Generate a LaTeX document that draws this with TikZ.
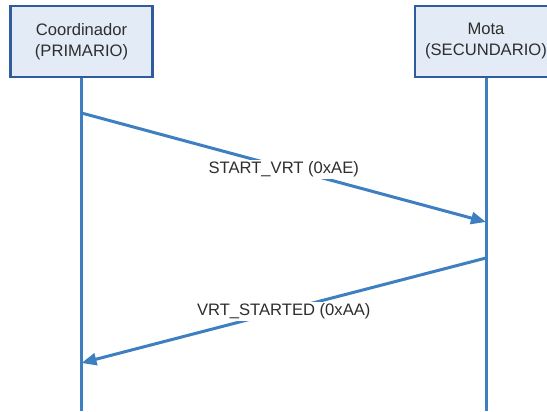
\documentclass[tikz,border=0pt]{standalone}
\usepackage{fontspec}
\setmainfont{Liberation Sans}
\usetikzlibrary{arrows.meta}
\definecolor{boxfill}{HTML}{E2EBF6}
\definecolor{boxedge}{HTML}{2E5C9C}
\definecolor{lifeblue}{HTML}{3D7FC1}
\definecolor{txt}{HTML}{2E2E2E}
\begin{document}
\begin{tikzpicture}[x=1pt,y=-1pt,
  actor/.style={draw=boxedge, fill=boxfill, line width=2.8pt,
    minimum width=142pt, minimum height=71pt, align=center,
    text=txt, font=\fontsize{16.6}{21}\selectfont, inner sep=0pt},
  life/.style={draw=lifeblue, line width=3pt},
  msg/.style={draw=lifeblue, line width=3pt,
    -{Triangle[length=15pt,width=12pt]}},
  msglabel/.style={fill=white, text=txt, inner sep=2pt,
    font=\fontsize{16.6}{20}\selectfont}]
\useasboundingbox (0,0) rectangle (547,412);
\fill[white] (0,0) rectangle (547,412);
\begin{scope}
\clip (0,0) rectangle (547,412);
% participants
\node[actor] (coord) at (81.5,41.5) {Coordinador\\(PRIMARIO)};
\node[actor] (mota) at (486,41.5) {Mota\\(SECUNDARIO)};
% lifelines
\coordinate (coordEnd) at (81.5,411);
\coordinate (motaEnd) at (486,411);
\draw[life] (coord.south) -- (coordEnd);
\draw[life] (mota.south) -- (motaEnd);
% message end points on the lifelines
\coordinate (m1s) at (81.5,113);
\coordinate (m1e) at (486,222);
\coordinate (m2s) at (486,258);
\coordinate (m2e) at (81.5,363);
% messages
\draw[msg] (m1s) -- node[msglabel, pos=0.5, yshift=-2pt] (l1) {START\_VRT (0xAE)} (m1e);
\draw[msg] (m2s) -- node[msglabel, pos=0.5, yshift=-1pt] (l2) {VRT\_STARTED (0xAA)} (m2e);
\end{scope}
\end{tikzpicture}
\end{document}
